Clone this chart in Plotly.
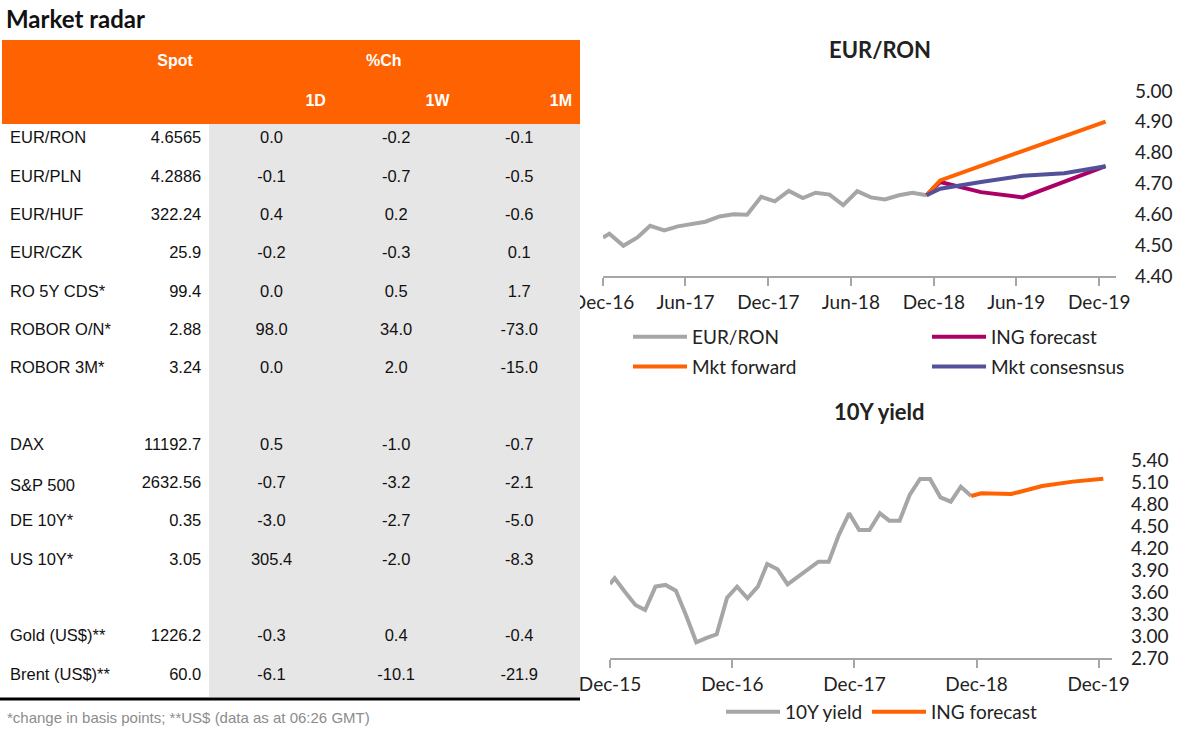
import plotly.graph_objects as go
import pandas as pd

# ---- table data ----
row_names = ["EUR/RON", "EUR/PLN", "EUR/HUF", "EUR/CZK", "RO 5Y CDS*", "ROBOR O/N*", "ROBOR 3M*", "",
             "DAX", "S&P 500", "DE 10Y*", "US 10Y*", "", "Gold (US$)**", "Brent (US$)**"]
spot = ["4.6565", "4.2886", "322.24", "25.9", "99.4", "2.88", "3.24", "",
        "11192.7", "2632.56", "0.35", "3.05", "", "1226.2", "60.0"]
chg_1d = [0.0, -0.1, 0.4, -0.2, 0.0, 98.0, 0.0, None, 0.5, -0.7, -3.0, 305.4, None, -0.3, -6.1]
chg_1w = [-0.2, -0.7, 0.2, -0.3, 0.5, 34.0, 2.0, None, -1.0, -3.2, -2.7, -2.0, None, 0.4, -10.1]
chg_1m = [-0.1, -0.5, -0.6, 0.1, 1.7, -73.0, -15.0, None, -0.7, -2.1, -5.0, -8.3, None, -0.4, -21.9]

# ---- EUR/RON chart ----
ron_dates = ["2016-12-01"] + [d.strftime("%Y-%m-15") for d in pd.date_range("2016-12-01", "2018-11-01", freq="MS")]
ron_spot = [4.525, 4.537, 4.498, 4.525, 4.563, 4.548, 4.561, 4.567, 4.576, 4.593, 4.600, 4.599, 4.657,
            4.642, 4.676, 4.653, 4.670, 4.664, 4.630, 4.675, 4.655, 4.648, 4.662, 4.670, 4.662]
ing_dates = ["2018-11-15", "2018-12-15", "2019-03-15", "2019-06-15", "2019-12-15"]
ing_fc = [4.662, 4.705, 4.672, 4.655, 4.756]
fwd_dates = ["2018-11-15", "2018-12-15", "2019-12-15"]
mkt_fwd = [4.662, 4.710, 4.901]
cons_dates = ["2018-11-15", "2018-12-15", "2019-03-15", "2019-06-15", "2019-09-15", "2019-12-15"]
mkt_cons = [4.662, 4.683, 4.705, 4.725, 4.733, 4.756]

# ---- 10Y yield chart ----
y10_dates = ["2015-12-01"] + [d.strftime("%Y-%m-15") for d in pd.date_range("2015-12-01", "2018-11-01", freq="MS")]
y10 = [3.709, 3.787, 3.600, 3.423, 3.355, 3.673, 3.696, 3.618, 3.286, 2.914, 2.973, 3.023, 3.523,
       3.673, 3.514, 3.673, 3.982, 3.909, 3.705, 3.809, 3.909, 4.014, 4.014, 4.377, 4.673,
       4.445, 4.445, 4.673, 4.573, 4.573, 4.923, 5.141, 5.141, 4.891, 4.832, 5.036, 4.909]
y10_fc_dates = ["2018-11-15", "2018-12-15", "2019-03-15", "2019-06-15", "2019-09-15", "2019-12-15"]
y10_fc = [4.909, 4.945, 4.936, 5.045, 5.105, 5.145]

ORANGE = "#FF6200"
GREY = "#A6A6A6"
PURPLE = "#AB0066"
BLUE = "#525199"
CELL_GREY = "#E6E6E6"
W, H = 1200, 739


def px(x):
    return x / W


def py(y):
    return 1 - y / H


def fmt(v):
    return "" if v is None else "{:.1f}".format(v)


n = len(row_names)
fills = [["white"] * n, ["white"] * n, [CELL_GREY] * n, [CELL_GREY] * n, [CELL_GREY] * n]

# table text sits near the top of each cell, so the table starts a little low
tbl_top, head_h, row_h = 44, 39.5, 38.3
fig = go.Figure()
fig.add_trace(go.Table(
    domain=dict(x=[px(2), px(580)], y=[py(tbl_top + 2 * head_h + n * row_h), py(tbl_top)]),
    columnwidth=[140, 68, 125, 125, 122],
    header=dict(values=[["", ""], ["<b>Spot</b>", ""], ["", "<b>1D</b>"],
                        ["<b>%Ch</b>" + "&nbsp;" * 11, "<b>1W</b>"], ["", "<b>1M</b>"]],
                fill_color=ORANGE, line=dict(width=1, color=ORANGE), height=head_h,
                align=["left", "center", "right", "right", "right"],
                font=dict(family="Liberation Sans", size=16, color="white")),
    cells=dict(values=[row_names, spot, [fmt(v) for v in chg_1d], [fmt(v) for v in chg_1w], [fmt(v) for v in chg_1m]],
               fill_color=fills, line=dict(width=1, color=fills), height=row_h,
               align=["left", "right", "center", "center", "center"],
               font=dict(family="Liberation Sans", size=16.5, color="#111111")),
))

# EUR/RON lines
fig.add_trace(go.Scatter(x=ron_dates, y=ron_spot, mode="lines", name="EUR/RON",
                         line=dict(color=GREY, width=4), xaxis="x", yaxis="y",
                         legend="legend", legendgroup="a"))
fig.add_trace(go.Scatter(x=ing_dates, y=ing_fc, mode="lines", name="ING forecast",
                         line=dict(color=PURPLE, width=4), xaxis="x", yaxis="y",
                         legend="legend2", legendgroup="c"))
fig.add_trace(go.Scatter(x=fwd_dates, y=mkt_fwd, mode="lines", name="Mkt forward",
                         line=dict(color=ORANGE, width=4), xaxis="x", yaxis="y",
                         legend="legend", legendgroup="b"))
fig.add_trace(go.Scatter(x=cons_dates, y=mkt_cons, mode="lines", name="Mkt consesnsus",
                         line=dict(color=BLUE, width=4), xaxis="x", yaxis="y",
                         legend="legend2", legendgroup="d"))

# 10Y yield lines
fig.add_trace(go.Scatter(x=y10_dates, y=y10, mode="lines", name="10Y yield",
                         line=dict(color=GREY, width=4), xaxis="x2", yaxis="y2", legend="legend3"))
fig.add_trace(go.Scatter(x=y10_fc_dates, y=y10_fc, mode="lines", name="ING forecast",
                         line=dict(color=ORANGE, width=4), xaxis="x2", yaxis="y2", legend="legend3"))

tick_font = dict(family="Lato", size=19, color="#222222")
xcommon = dict(type="date", showgrid=False, zeroline=False, showline=True, linecolor=GREY, linewidth=2,
               ticks="outside", ticklen=8, tickwidth=2, tickcolor=GREY, tickformat="%b-%y",
               tickfont=tick_font)
ycommon = dict(showgrid=False, zeroline=False, showline=False, side="right", ticks="",
               tickformat=".2f", tickfont=tick_font, ticklabelstandoff=18)
leg_font = dict(family="Lato", size=19, color="#222222")

fig.update_layout(
    width=W, height=H, margin=dict(l=0, r=0, t=0, b=0, autoexpand=False),
    paper_bgcolor="white", plot_bgcolor="white",
    xaxis=dict(xcommon, domain=[px(603), px(1116)], anchor="y",
               range=["2016-12-01", "2020-01-07"], tick0="2016-12-01", dtick="M6"),
    yaxis=dict(ycommon, domain=[py(276), py(91)], anchor="x", range=[4.40, 5.00], dtick=0.1),
    xaxis2=dict(xcommon, domain=[px(610), px(1112)], anchor="y2",
                range=["2015-12-01", "2020-01-10"], tick0="2015-12-01", dtick="M12"),
    yaxis2=dict(ycommon, domain=[py(658), py(460)], anchor="x2", range=[2.70, 5.40], dtick=0.3),
    legend=dict(x=px(628), y=py(318), xanchor="left", yanchor="top", orientation="v",
                font=leg_font, tracegroupgap=2, itemwidth=54, bgcolor="rgba(0,0,0,0)"),
    legend2=dict(x=px(927), y=py(318), xanchor="left", yanchor="top", orientation="v",
                 font=leg_font, tracegroupgap=2, itemwidth=54, bgcolor="rgba(0,0,0,0)"),
    legend3=dict(x=px(721), y=py(712), xanchor="left", yanchor="middle", orientation="h",
                 font=leg_font, itemwidth=54, bgcolor="rgba(0,0,0,0)"),
    annotations=[
        dict(text="<b>Market radar</b>", x=px(4), y=py(19), xref="paper", yref="paper",
             xanchor="left", yanchor="middle", showarrow=False,
             font=dict(family="Lato", size=24, color="#111111")),
        dict(text="<b>EUR/RON</b>", x=px(880), y=py(49), xref="paper", yref="paper",
             xanchor="center", yanchor="middle", showarrow=False,
             font=dict(family="Lato", size=22, color="#222222")),
        dict(text="<b>10Y yield</b>", x=px(880), y=py(411), xref="paper", yref="paper",
             xanchor="center", yanchor="middle", showarrow=False,
             font=dict(family="Lato", size=22, color="#222222")),
        dict(text="*change in basis points; **US$ (data as at 06:26 GMT)", x=px(5), y=py(717),
             xref="paper", yref="paper", xanchor="left", yanchor="middle", showarrow=False,
             font=dict(family="Liberation Sans", size=15, color="#8C8C8C")),
    ],
    shapes=[
        # top of the orange header band, above where the table begins
        dict(type="rect", xref="paper", yref="paper", x0=px(2), x1=px(580), y0=py(tbl_top), y1=py(40),
             fillcolor=ORANGE, line=dict(width=0), layer="below"),
        dict(type="line", xref="paper", yref="paper", x0=0, x1=px(580), y0=py(699), y1=py(699),
             line=dict(color="black", width=3)),
    ],
)

# the page body has an 8px default margin; drop it so the figure sits at (0, 0)
fig.write_html("out.html", config={"displayModeBar": False},
               post_script="document.body.style.margin = '0';")
